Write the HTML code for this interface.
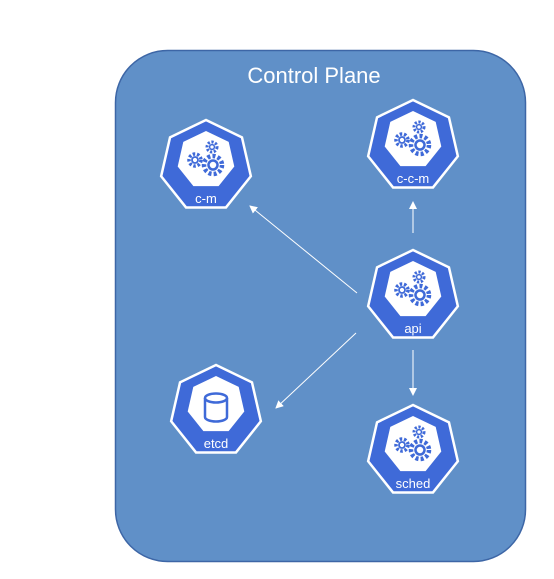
<!DOCTYPE html>
<html><head><style>
body{margin:0;background:#fff;width:554px;height:574px;overflow:hidden}
</style></head><body>
<svg width="554" height="574" viewBox="0 0 554 574" xmlns="http://www.w3.org/2000/svg">
<defs>
<polygon id="hep" points="0,-46 35.96,-28.68 44.85,10.24 19.96,41.44 -19.96,41.44 -44.85,10.24 -35.96,-28.68"/>
<polygon id="hin" points="0,-29 22.7,-18.1 28.3,6.5 12.6,26.1 -12.6,26.1 -28.3,6.5 -22.7,-18.1"/>
<g id="gears" fill="none" stroke="#3f6ad8">
<circle cx="-11" cy="0" r="6" stroke-width="3.5" stroke-dasharray="2.5 1.8"/>
<circle cx="-11" cy="0" r="3" stroke-width="1.8"/>
<circle cx="6" cy="-13" r="5" stroke-width="3" stroke-dasharray="2.2 1.6"/>
<circle cx="6" cy="-13" r="2.4" stroke-width="1.5"/>
<circle cx="7" cy="5" r="9" stroke-width="4.5" stroke-dasharray="3 2.2"/>
<circle cx="7" cy="5" r="4.5" stroke-width="2.5"/>
</g>
<marker id="ah" markerWidth="8" markerHeight="8" refX="7" refY="4" orient="auto" markerUnits="userSpaceOnUse">
<path d="M0,0 L8,4 L0,8 Z" fill="#fff"/></marker>
</defs>
<rect x="115.5" y="50.5" width="410" height="511" rx="52" fill="#6090c8" stroke="#3d66a6" stroke-width="1.5"/>
<text x="314" y="83" fill="#fff" font-family="Liberation Sans, sans-serif" font-size="22" text-anchor="middle">Control Plane</text>
<g stroke="#fff" stroke-width="1" marker-end="url(#ah)">
<line x1="357" y1="293" x2="250" y2="206"/>
<line x1="413" y1="233" x2="413" y2="202"/>
<line x1="356" y1="333" x2="276" y2="408"/>
<line x1="413" y1="350" x2="413" y2="395"/>
</g>
<g font-family="Liberation Sans, sans-serif" font-size="13" fill="#fff" text-anchor="middle">
<g transform="translate(206,166)"><use href="#hep" fill="#3f6ad8" stroke="#fff" stroke-width="2.5"/><use href="#hin" transform="translate(0,-6)" fill="#fff"/><use href="#gears" transform="translate(0,-6)"/><text y="37">c-m</text></g>
<g transform="translate(413,146)"><use href="#hep" fill="#3f6ad8" stroke="#fff" stroke-width="2.5"/><use href="#hin" transform="translate(0,-6)" fill="#fff"/><use href="#gears" transform="translate(0,-6)"/><text y="37">c-c-m</text></g>
<g transform="translate(413,296)"><use href="#hep" fill="#3f6ad8" stroke="#fff" stroke-width="2.5"/><use href="#hin" transform="translate(0,-6)" fill="#fff"/><use href="#gears" transform="translate(0,-6)"/><text y="37">api</text></g>
<g transform="translate(413,451)"><use href="#hep" fill="#3f6ad8" stroke="#fff" stroke-width="2.5"/><use href="#hin" transform="translate(0,-6)" fill="#fff"/><use href="#gears" transform="translate(0,-6)"/><text y="37">sched</text></g>
<g transform="translate(216,411)"><use href="#hep" fill="#3f6ad8" stroke="#fff" stroke-width="2.5"/><use href="#hin" transform="translate(0,-6)" fill="#fff"/>
<g fill="none" stroke="#3f6ad8" stroke-width="2.5"><ellipse cx="0" cy="-13" rx="11" ry="4.5"/><path d="M-11,-13 V6 A11,4.5 0 0 0 11,6 V-13"/></g>
<text y="37">etcd</text></g>
</g>
</svg>
</body></html>
